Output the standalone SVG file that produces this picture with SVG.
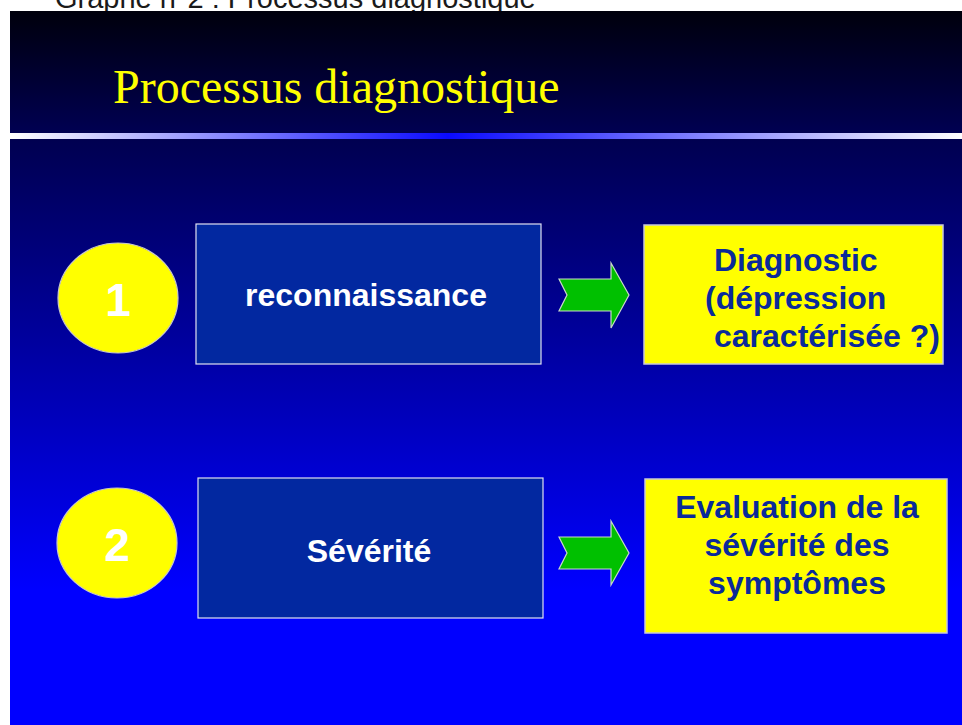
<svg xmlns="http://www.w3.org/2000/svg" width="962" height="725" viewBox="0 0 962 725">
  <defs>
    <linearGradient id="band" x1="0" y1="0" x2="0" y2="1">
      <stop offset="0" stop-color="#00000c"/>
      <stop offset="1" stop-color="#000052"/>
    </linearGradient>
    <linearGradient id="stripe" x1="10" y1="0" x2="962" y2="0" gradientUnits="userSpaceOnUse">
      <stop offset="0" stop-color="#ffffff"/>
      <stop offset="0.46" stop-color="#0a0aff"/>
      <stop offset="1" stop-color="#ffffff"/>
    </linearGradient>
    <linearGradient id="body" x1="0" y1="139" x2="0" y2="590" gradientUnits="userSpaceOnUse">
      <stop offset="0" stop-color="#000050"/>
      <stop offset="1" stop-color="#0000ff"/>
    </linearGradient>
    <style>
      .circle { fill: #ffff00; stroke: #c8c8c8; stroke-width: 1.2; }
      .num { font-family: "Liberation Sans", Arial, sans-serif; font-weight: bold; font-size: 46px; fill: #ffffff; text-anchor: middle; }
      .dark { fill: #0228a0; stroke: #e0e0f0; stroke-width: 1.2; }
      .wlabel { font-family: "Liberation Sans", Arial, sans-serif; font-weight: bold; font-size: 32px; fill: #ffffff; text-anchor: middle; }
      .yel { fill: #ffff00; stroke: #c8c8d8; stroke-width: 1.5; }
      .blabel { font-family: "Liberation Sans", Arial, sans-serif; font-weight: bold; font-size: 32px; fill: #0a2a9a; }
      .arrow { fill: #00c000; stroke: #c8d8c8; stroke-width: 1.2; stroke-linejoin: miter; }
    </style>
  </defs>

  <rect x="0" y="0" width="962" height="725" fill="#ffffff"/>
  <text x="55" y="8" font-family="Liberation Sans, Arial, sans-serif" font-size="29" fill="#1a1a1a">Graphe n°2 : Processus diagnostique</text>

  <g id="background">
    <rect x="10" y="11" width="952" height="122" fill="url(#band)"/>
    <rect x="10" y="133" width="952" height="6" fill="url(#stripe)"/>
    <rect x="10" y="139" width="952" height="586" fill="url(#body)"/>
  </g>

  <g id="title">
    <text x="113" y="103" font-family="Liberation Serif, 'Times New Roman', serif" font-size="48" fill="#ffff00">Processus diagnostique</text>
  </g>

  <g id="step1">
    <ellipse class="circle" cx="118" cy="298" rx="60" ry="55"/>
    <text class="num" x="118" y="316">1</text>
  </g>
  <g id="reconnaissance">
    <rect class="dark" x="196" y="224" width="345" height="140"/>
    <text class="wlabel" x="366" y="306">reconnaissance</text>
  </g>
  <g id="diagnostic">
    <rect class="yel" x="644" y="225" width="299" height="139"/>
    <text class="blabel" x="714" y="271">Diagnostic</text>
    <text class="blabel" x="705" y="309">(dépression</text>
    <text class="blabel" x="714" y="347">caractérisée ?)</text>
  </g>

  <g id="step2">
    <ellipse class="circle" cx="117" cy="543" rx="60" ry="55"/>
    <text class="num" x="117" y="561">2</text>
  </g>
  <g id="severite">
    <rect class="dark" x="198" y="478" width="345" height="140"/>
    <text class="wlabel" x="369" y="562">Sévérité</text>
  </g>
  <g id="evaluation">
    <rect class="yel" x="645" y="479" width="302" height="154"/>
    <text class="blabel" x="797" y="518" text-anchor="middle">Evaluation de la</text>
    <text class="blabel" x="797" y="556" text-anchor="middle">sévérité des</text>
    <text class="blabel" x="797" y="594" text-anchor="middle">symptômes</text>
  </g>

  <g id="connectors">
    <path class="arrow" d="M559,279 L611,279 L611,263 L629,295 L611,328 L611,311 L559,311 L567,295 Z"/>
    <path class="arrow" d="M559,537 L611,537 L611,521 L629,553 L611,585 L611,569 L559,569 L567,553 Z"/>
  </g>
</svg>
